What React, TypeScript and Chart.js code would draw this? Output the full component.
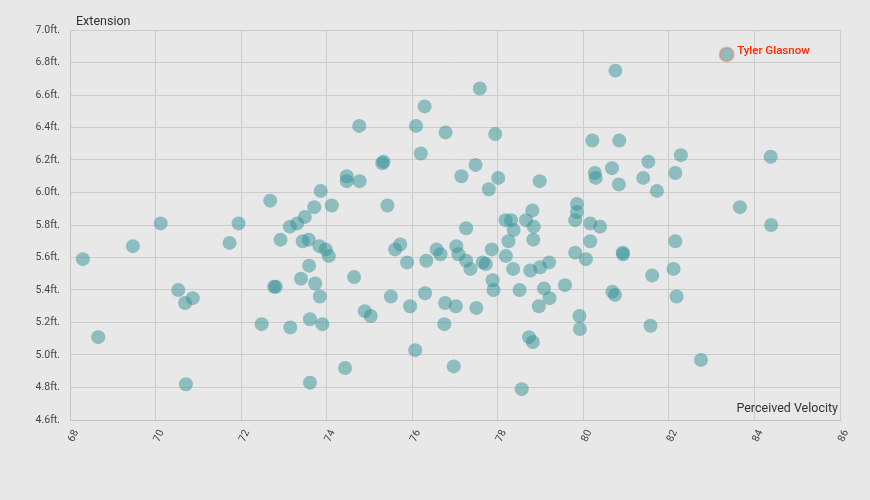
import React, { useEffect, useRef } from "react";
import { Chart, registerables } from "chart.js";

Chart.register(...registerables);

// Perceived velocity (mph) of each pitcher
const velocity = [
  68.30, 68.66, 69.47, 70.12, 70.53, 70.69, 70.87, 70.71, 71.73, 71.94,
  72.68, 72.77, 72.81, 72.48, 72.92, 73.14, 73.31, 73.15, 73.40, 73.44,
  73.49, 73.58, 73.59, 73.71, 73.73, 73.61, 73.61, 73.84, 73.83, 73.86,
  73.90, 73.98, 74.05, 74.12, 74.43, 74.47, 74.47, 74.64, 74.77, 74.76,
  74.89, 75.03, 75.30, 75.33, 75.42, 75.50, 75.60, 75.72, 75.88, 75.95,
  76.07, 76.09, 76.20, 76.29, 76.30, 76.33, 76.57, 76.66, 76.77, 76.75,
  76.78, 76.97, 77.03, 77.02, 77.08, 77.15, 77.26, 77.26, 77.36, 77.48,
  77.50, 77.58, 77.65, 77.72, 77.79, 77.86, 77.88, 77.90, 77.94, 78.01,
  78.19, 78.18, 78.25, 78.31, 78.37, 78.36, 78.51, 78.56, 78.66, 78.73,
  78.76, 78.81, 78.82, 78.83, 78.84, 78.99, 78.96, 78.98, 79.08, 79.20,
  79.21, 79.57, 79.81, 79.85, 79.81, 79.85, 79.91, 79.92, 80.06, 80.16,
  80.16, 80.21, 80.27, 80.29, 80.39, 80.67, 80.68, 80.74, 80.75, 80.83,
  80.84, 80.92, 80.93, 81.40, 81.52, 81.57, 81.61, 81.72, 82.11, 82.15,
  82.15, 82.18, 82.28, 82.75, 83.66, 84.38, 84.39,
];

// Extension (ft.) of each pitcher, same order
const extension = [
  5.59, 5.11, 5.67, 5.81, 5.40, 5.32, 5.35, 4.82, 5.69, 5.81,
  5.95, 5.42, 5.42, 5.19, 5.71, 5.79, 5.81, 5.17, 5.47, 5.70,
  5.85, 5.71, 5.55, 5.91, 5.44, 5.22, 4.83, 5.36, 5.67, 6.01,
  5.19, 5.65, 5.61, 5.92, 4.92, 6.10, 6.07, 5.48, 6.07, 6.41,
  5.27, 5.24, 6.18, 6.19, 5.92, 5.36, 5.65, 5.68, 5.57, 5.30,
  5.03, 6.41, 6.24, 6.53, 5.38, 5.58, 5.65, 5.62, 5.32, 5.19,
  6.37, 4.93, 5.67, 5.30, 5.62, 6.10, 5.58, 5.78, 5.53, 6.17,
  5.29, 6.64, 5.57, 5.56, 6.02, 5.65, 5.46, 5.40, 6.36, 6.09,
  5.61, 5.83, 5.70, 5.83, 5.77, 5.53, 5.40, 4.79, 5.83, 5.11,
  5.52, 5.89, 5.08, 5.71, 5.79, 5.54, 5.30, 6.07, 5.41, 5.57,
  5.35, 5.43, 5.63, 5.93, 5.83, 5.88, 5.24, 5.16, 5.59, 5.81,
  5.70, 6.32, 6.12, 6.09, 5.79, 6.15, 5.39, 5.37, 6.75, 6.05,
  6.32, 5.63, 5.62, 6.09, 6.19, 5.18, 5.49, 6.01, 5.53, 6.12,
  5.70, 5.36, 6.23, 4.97, 5.91, 6.22, 5.80,
];

const highlightName = "Tyler Glasnow";
const highlightVelocity = [83.35];
const highlightExtension = [6.85];

const xTickValues = [68, 70, 72, 74, 76, 78, 80, 82, 84, 86];
const yTickValues = [4.6, 4.8, 5.0, 5.2, 5.4, 5.6, 5.8, 6.0, 6.2, 6.4, 6.6, 6.8, 7.0];

const xTitle = "Perceived Velocity";
const yTitle = "Extension";

const FONT = "Roboto, 'Liberation Sans', sans-serif";

const labelsPlugin = {
  id: "labelsPlugin",
  afterDatasetsDraw(chart: any) {
    const { ctx, chartArea, scales } = chart;
    ctx.save();
    ctx.fillStyle = "#333333";
    ctx.font = `12.5px ${FONT}`;
    ctx.textBaseline = "middle";
    ctx.textAlign = "left";
    ctx.fillText(yTitle, chartArea.left + 6, chartArea.top - 8);
    ctx.textAlign = "right";
    ctx.fillText(xTitle, chartArea.right - 2, chartArea.bottom - 11);

    const px = scales.x.getPixelForValue(highlightVelocity[0]);
    const py = scales.y.getPixelForValue(highlightExtension[0]);
    ctx.textAlign = "left";
    ctx.fillStyle = "#ff2a00";
    ctx.font = `500 11.5px ${FONT}`;
    ctx.fillText(highlightName, px + 10.5, py - 3.5);
    ctx.restore();
  },
};

export default function App() {
  const canvasRef = useRef<HTMLCanvasElement | null>(null);

  useEffect(() => {
    if (!canvasRef.current) return;
    Chart.defaults.font.family = FONT;
    const points = velocity.map((v, i) => ({ x: v, y: extension[i] }));
    const highlight = highlightVelocity.map((v, i) => ({ x: v, y: highlightExtension[i] }));

    const chart = new Chart(canvasRef.current, {
      type: "scatter",
      data: {
        datasets: [
          {
            label: "Pitchers",
            data: points,
            backgroundColor: "rgba(50,146,150,0.5)",
            borderWidth: 0,
            pointRadius: 7,
            pointHoverRadius: 7,
          },
          {
            label: highlightName,
            data: highlight,
            backgroundColor: "rgba(50,146,150,0.5)",
            borderColor: "rgba(225,120,100,0.45)",
            borderWidth: 2,
            pointRadius: 7,
            pointHoverRadius: 7,
          },
        ],
      },
      options: {
        animation: false,
        responsive: false,
        events: [],
        layout: { padding: { left: 0, right: 30, top: 30, bottom: 0 }, autoPadding: false },
        plugins: {
          legend: { display: false },
          tooltip: { enabled: false },
          title: { display: false },
        },
        scales: {
          x: {
            type: "linear",
            min: xTickValues[0],
            max: xTickValues[xTickValues.length - 1],
            afterBuildTicks: (scale: any) => {
              scale.ticks = xTickValues.map((v) => ({ value: v }));
            },
            afterFit: (scale: any) => {
              scale.height = 80;
            },
            grid: { color: "#cccccc", drawTicks: false, lineWidth: 1 },
            border: { color: "#c4c4c4", width: 1 },
            ticks: {
              color: "#444444",
              font: { size: 10.5, family: FONT },
              padding: 8,
              minRotation: 65,
              maxRotation: 65,
              labelOffset: 6,
              callback: (v: any) => String(v),
            },
          },
          y: {
            type: "linear",
            min: yTickValues[0],
            max: yTickValues[yTickValues.length - 1],
            afterBuildTicks: (scale: any) => {
              scale.ticks = yTickValues.map((v) => ({ value: v }));
            },
            afterFit: (scale: any) => {
              scale.width = 70;
            },
            grid: { color: "#cccccc", drawTicks: false, lineWidth: 1 },
            border: { color: "#c4c4c4", width: 1 },
            ticks: {
              color: "#444444",
              font: { size: 10.5, family: FONT },
              padding: 10,
              callback: (v: any) => Number(v).toFixed(1) + "ft.",
            },
          },
        },
      },
      plugins: [labelsPlugin],
    } as any);

    return () => chart.destroy();
  }, []);

  return (
    <div
      style={{
        position: "absolute",
        left: 0,
        top: 0,
        width: 870,
        height: 500,
        background: "#e8e8e8",
      }}
    >
      <canvas ref={canvasRef} width={870} height={500} style={{ display: "block" }} />
    </div>
  );
}
